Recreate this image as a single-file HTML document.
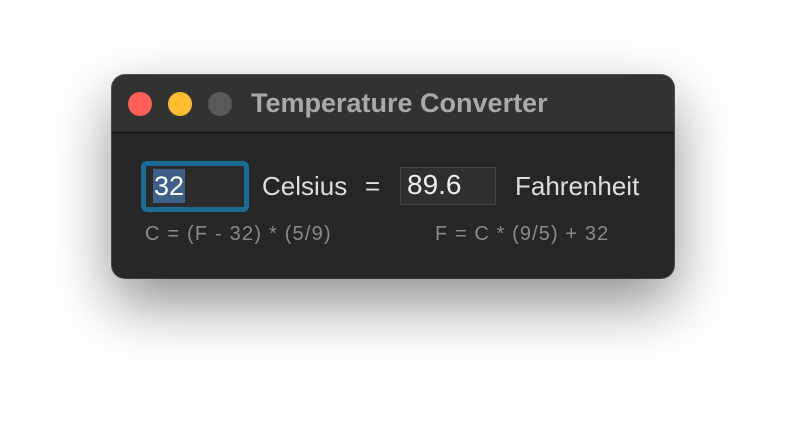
<!DOCTYPE html>
<html><head><meta charset="utf-8"><style>
body{margin:0;width:786px;height:426px;background:#fff;position:relative;overflow:hidden;font-family:"Liberation Sans",sans-serif}
.win{position:absolute;left:112px;top:75px;width:562px;height:203px;border-radius:13px;background:#262626;box-shadow:0 25px 60px rgba(0,0,0,.45),0 0 0 1px #5a5a5a;overflow:hidden}
.tb{position:absolute;left:0;top:0;width:100%;height:57px;background:#323232;border-bottom:1px solid #111}
.dot{position:absolute;top:17px;width:24px;height:24px;border-radius:50%}
.t{position:absolute;white-space:nowrap;line-height:1.15}
</style></head><body>
<div class="win">
 <div class="tb">
  <div class="dot" style="left:16px;background:#fe5f57"></div>
  <div class="dot" style="left:56px;background:#febc2e"></div>
  <div class="dot" style="left:96px;background:#595959"></div>
  <div class="t" style="left:139px;top:13px;font-size:27px;font-weight:bold;color:#a9a9a9">Temperature Converter</div>
 </div>
 <div style="position:absolute;left:29px;top:86px;width:98px;height:41px;border:5px solid #1a6b96;border-radius:6px;background:#2b2b2b">
  <span class="t" style="left:7px;top:3px;height:34px;line-height:34px;background:#3e5f88;color:#fff;font-size:27px;padding:0 1px">32</span>
 </div>
 <div class="t" style="left:150px;top:97px;font-size:26px;color:#dedede">Celsius</div>
 <div class="t" style="left:253px;top:97px;font-size:26px;color:#dedede">=</div>
 <div style="position:absolute;left:288px;top:92px;width:94px;height:36px;border:1px solid #464646;background:#2f2f2f">
  <span class="t" style="left:6px;top:1px;color:#eee;font-size:28px">89.6</span>
 </div>
 <div class="t" style="left:403px;top:97px;font-size:26px;color:#dedede">Fahrenheit</div>
 <div class="t" style="left:33px;top:148px;font-size:20px;letter-spacing:1.2px;color:#8a8a8a">C = (F - 32) * (5/9)</div>
 <div class="t" style="left:323px;top:148px;font-size:20px;letter-spacing:1.1px;color:#8a8a8a">F = C * (9/5) + 32</div>
</div>
</body></html>
